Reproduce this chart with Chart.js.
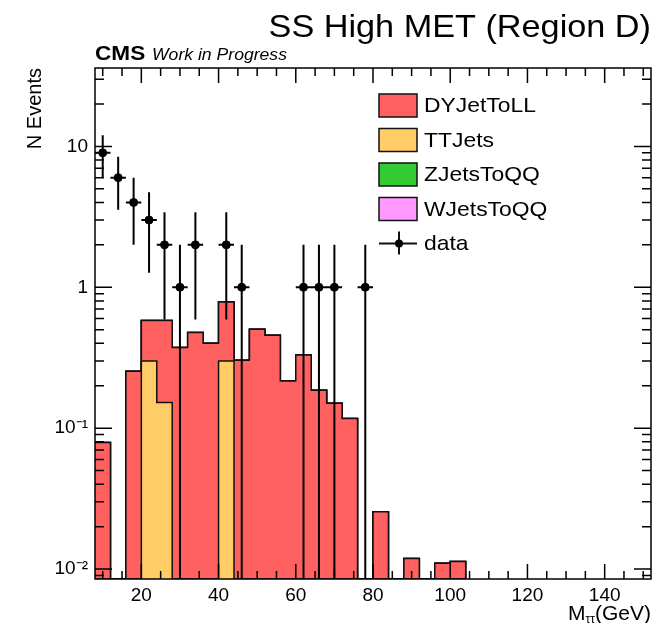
<!DOCTYPE html>
<html lang="en">
<head>
<meta charset="UTF-8">
<title>SS High MET (Region D)</title>
<script src="https://cdn.jsdelivr.net/npm/chart.js"></script>
<style>
  body { margin: 0; background: #fff; }
  #chart { display: block; }
</style>
</head>
<body>
<canvas id="chart" width="658" height="623"></canvas>
<script>
// histogram bins (low edge, GeV) and stacked MC contributions
const binLow = [8, 12, 16, 20, 24, 28, 32, 36, 40, 44, 48, 52, 56, 60, 64, 68, 72, 76, 80, 84, 88, 92, 96, 100];
const BIN_WIDTH = 4;
const dyJets = [0.079, 0, 0.254, 0.28, 0.43, 0.373, 0.477, 0.40, 0.487, 0.303, 0.504, 0.457, 0.216, 0.33, 0.186, 0.150, 0.117, 0, 0.0255, 0, 0.0119, 0, 0.011, 0.0113];
const ttJets = [0, 0, 0, 0.30, 0.152, 0, 0, 0, 0.30, 0, 0, 0, 0, 0, 0, 0, 0, 0, 0, 0, 0, 0, 0, 0];
const zJets = [0, 0, 0, 0, 0, 0, 0, 0, 0, 0, 0, 0, 0, 0, 0, 0, 0, 0, 0, 0, 0, 0, 0, 0];
const wJets = [0, 0, 0, 0, 0, 0, 0, 0, 0, 0, 0, 0, 0, 0, 0, 0, 0, 0, 0, 0, 0, 0, 0, 0];

// observed data
const dataMass = [10, 14, 18, 22, 26, 30, 34, 42, 46, 62, 66, 70, 78];
const dataCounts = [9, 6, 4, 3, 2, 1, 2, 2, 1, 1, 1, 1, 1];
const dataErrors = [3, 2.45, 2, 1.73, 1.41, 1, 1.41, 1.41, 1, 1, 1, 1, 1];

const xTicks = [20, 40, 60, 80, 100, 120, 140];
const yTicks = [0.01, 0.1, 1, 10];
const yTickLabels = ['10⁻²', '10⁻¹', '1', '10'];

const X_MIN = 8, X_MAX = 152;
const Y_MIN = 0.0085, Y_MAX = 36;
const FONT = '"Liberation Sans", Arial, Helvetica, sans-serif';

const colors = {
    dy: '#ff6161',
    tt: '#ffcc66',
    z: '#33cc33',
    w: '#ff99ff'
};

// cumulative stack levels (TT at the bottom)
const ttLevel = ttJets.slice();
const dyLevel = ttLevel.map((v, i) => v + dyJets[i]);
const zLevel = dyLevel.map((v, i) => v + zJets[i]);
const wLevel = zLevel.map((v, i) => v + wJets[i]);

function stepPoints(values) {
    const pts = binLow.map((lo, i) => ({ x: lo, y: values[i] > 0 ? values[i] : Y_MIN }));
    pts.push({ x: binLow[binLow.length - 1] + BIN_WIDTH, y: Y_MIN });
    return pts;
}

function histDataset(label, values, color, order) {
    return {
        label: label,
        data: stepPoints(values),
        stepped: 'before',
        fill: 'start',
        backgroundColor: color,
        borderColor: '#111',
        borderWidth: 1.5,
        pointRadius: 0,
        order: order
    };
}

// error bars as separate segments (null breaks the line)
const errorSegments = [];
dataMass.forEach((m, i) => {
    const n = dataCounts[i], e = dataErrors[i];
    errorSegments.push({ x: m, y: Math.max(n - e, Y_MIN) }, { x: m, y: n + e }, { x: m, y: null });
    errorSegments.push({ x: m - BIN_WIDTH / 2, y: n }, { x: m + BIN_WIDTH / 2, y: n }, { x: m, y: null });
});

const legendItems = [
    { label: 'DYJetToLL', color: colors.dy },
    { label: 'TTJets', color: colors.tt },
    { label: 'ZJetsToQQ', color: colors.z },
    { label: 'WJetsToQQ', color: colors.w },
    { label: 'data', marker: true }
];

// text drawn a little wider, like the ROOT Helvetica rendering
function wideText(ctx, text, x, y, align, sx) {
    ctx.save();
    ctx.translate(x, y);
    ctx.scale(sx, 1);
    ctx.textAlign = align;
    ctx.fillText(text, 0, 0);
    ctx.restore();
}

const rootStyle = {
    id: 'rootStyle',
    afterDatasetsDraw(chart) {
        const { ctx, chartArea: a, scales: { x, y } } = chart;
        ctx.save();
        ctx.strokeStyle = '#000';
        ctx.lineWidth = 1.5;
        ctx.beginPath();
        for (let v = 10; v <= 150; v += 5) {
            const px = x.getPixelForValue(v);
            const len = v % 20 === 0 ? 15 : 8;
            ctx.moveTo(px, a.bottom); ctx.lineTo(px, a.bottom - len);
            ctx.moveTo(px, a.top); ctx.lineTo(px, a.top + len);
        }
        for (let e = -3; e <= 2; e++) {
            for (let k = 1; k <= 9; k++) {
                const v = k * Math.pow(10, e);
                if (v < y.min || v > y.max) continue;
                const py = y.getPixelForValue(v);
                const len = k === 1 ? 17 : 9;
                ctx.moveTo(a.left, py); ctx.lineTo(a.left + len, py);
                ctx.moveTo(a.right, py); ctx.lineTo(a.right - len, py);
            }
        }
        ctx.stroke();
        ctx.strokeRect(a.left, a.top, a.right - a.left, a.bottom - a.top);
        ctx.restore();
    },
    afterDraw(chart) {
        const { ctx, chartArea: a } = chart;
        ctx.save();
        ctx.fillStyle = '#000';
        ctx.textBaseline = 'alphabetic';

        // title
        ctx.font = '32px ' + FONT;
        wideText(ctx, 'SS High MET (Region D)', a.right, 37, 'right', 1.07);

        // CMS label
        ctx.font = 'bold 20px ' + FONT;
        wideText(ctx, 'CMS', a.left, 60, 'left', 1.13);
        ctx.font = 'italic 16px ' + FONT;
        wideText(ctx, 'Work in Progress', 152, 60, 'left', 1.1);

        // y title
        ctx.save();
        ctx.translate(41, a.top);
        ctx.rotate(-Math.PI / 2);
        ctx.font = '20px ' + FONT;
        ctx.textAlign = 'right';
        ctx.fillText('N Events', 0, 0);
        ctx.restore();

        // x title with subscript
        ctx.textAlign = 'right';
        ctx.font = '21px ' + FONT;
        ctx.fillText('(GeV)', a.right, 620);
        let xr = a.right - ctx.measureText('(GeV)').width;
        ctx.font = '12px ' + FONT;
        ctx.fillText('ττ', xr, 623);
        xr -= ctx.measureText('ττ').width;
        ctx.font = '21px ' + FONT;
        ctx.fillText('M', xr, 620);

        // legend
        const bx = 379, bw = 38, bh = 23, rowY = [105.5, 140, 174.5, 209, 243.5];
        ctx.textBaseline = 'middle';
        legendItems.forEach((item, i) => {
            const cy = rowY[i];
            ctx.lineWidth = 1.5;
            ctx.strokeStyle = '#111';
            if (item.marker) {
                ctx.beginPath();
                ctx.lineWidth = 2;
                ctx.moveTo(bx, cy); ctx.lineTo(bx + bw, cy);
                ctx.moveTo(bx + 20, cy - 12); ctx.lineTo(bx + 20, cy + 11);
                ctx.stroke();
                ctx.beginPath();
                ctx.arc(bx + 20, cy, 4, 0, Math.PI * 2);
                ctx.fillStyle = '#000';
                ctx.fill();
            } else {
                ctx.fillStyle = item.color;
                ctx.fillRect(bx, cy - bh / 2, bw, bh);
                ctx.strokeRect(bx, cy - bh / 2, bw, bh);
            }
            ctx.fillStyle = '#000';
            ctx.font = '21px ' + FONT;
            wideText(ctx, item.label, bx + bw + 7, cy + 1, 'left', 1.09);
        });
        ctx.restore();
    }
};

new Chart(document.getElementById('chart'), {
    type: 'line',
    data: {
        datasets: [
            {
                label: 'data',
                data: dataMass.map((m, i) => ({ x: m, y: dataCounts[i] })),
                showLine: false,
                pointRadius: 4,
                pointStyle: 'circle',
                pointBackgroundColor: '#000',
                pointBorderColor: '#000',
                order: 0
            },
            {
                label: 'data errors',
                data: errorSegments,
                borderColor: '#000',
                borderWidth: 2,
                pointRadius: 0,
                spanGaps: false,
                fill: false,
                order: 1
            },
            histDataset('TTJets', ttLevel, colors.tt, 2),
            histDataset('DYJetToLL', dyLevel, colors.dy, 3),
            histDataset('ZJetsToQQ', zLevel, colors.z, 4),
            histDataset('WJetsToQQ', wLevel, colors.w, 5)
        ]
    },
    options: {
        responsive: false,
        animation: false,
        layout: { padding: { left: 0, top: 68, right: 7, bottom: 0 } },
        plugins: {
            legend: { display: false },
            tooltip: { enabled: false }
        },
        scales: {
            x: {
                type: 'linear',
                min: X_MIN,
                max: X_MAX,
                grid: { display: false, drawTicks: false },
                border: { display: false },
                afterBuildTicks: scale => { scale.ticks = xTicks.map(v => ({ value: v })); },
                afterFit: scale => { scale.height = 44; },
                ticks: {
                    padding: 5,
                    maxRotation: 0,
                    color: '#000',
                    font: { family: FONT, size: 19 }
                }
            },
            y: {
                type: 'logarithmic',
                min: Y_MIN,
                max: Y_MAX,
                grid: { display: false, drawTicks: false },
                border: { display: false },
                afterBuildTicks: scale => { scale.ticks = yTicks.map(v => ({ value: v })); },
                afterFit: scale => { scale.width = 95; },
                ticks: {
                    padding: 7,
                    color: '#000',
                    font: { family: FONT, size: 19 },
                    callback: value => yTickLabels[yTicks.indexOf(value)]
                }
            }
        }
    },
    plugins: [rootStyle]
});
</script>
</body>
</html>
